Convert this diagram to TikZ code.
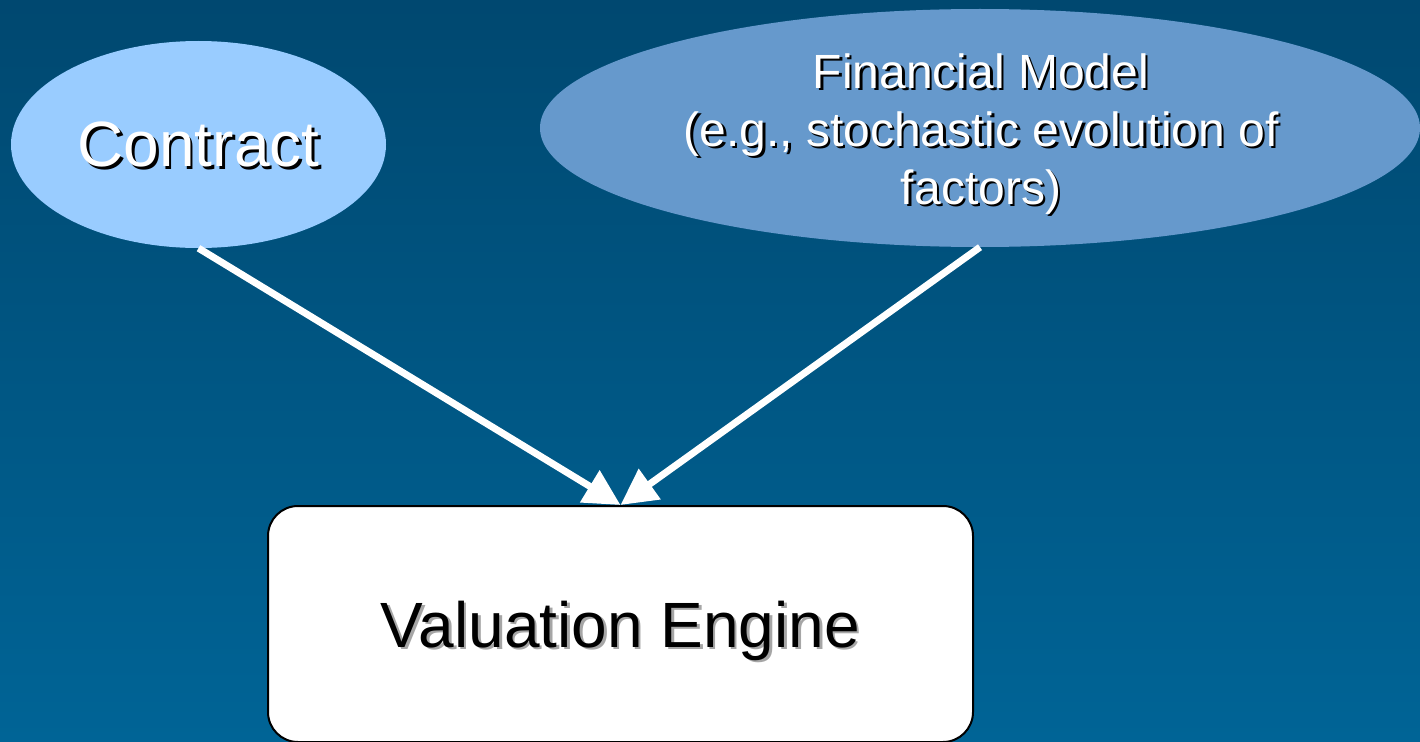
\documentclass[tikz,border=0pt]{standalone}
\usepackage{fontspec}
\setmainfont{Liberation Sans}
\usetikzlibrary{positioning}
\usetikzlibrary{shapes.geometric}
\usetikzlibrary{arrows.meta}
\definecolor{bgtop}{RGB}{0,72,112}
\definecolor{bgbot}{RGB}{0,100,150}
\definecolor{contractblue}{RGB}{153,204,255}
\definecolor{modelblue}{RGB}{102,153,204}
\newcommand{\shtext}[3]{\leavevmode\rlap{\kern2.5pt\raisebox{-2.5pt}{\textcolor{#1}{#3}}}\textcolor{#2}{#3}}
\tikzstyle{bubble} = [ellipse, inner sep=0pt]
\tikzstyle{engine} = [draw=black, line width=2pt, fill=white, rectangle, rounded corners=30pt, minimum width=705pt, minimum height=236pt, text depth=0pt]
\tikzstyle{feed} = [draw=white, line width=7pt, -{Triangle[length=36pt,width=36pt]}]

\begin{document}
\begin{tikzpicture}[x=1pt,y=-1pt]
    \shade [top color=bgtop, bottom color=bgbot] (0,0) rectangle (1420,741);
    \useasboundingbox (0,0) rectangle (1420,741);

    \node [bubble, fill=contractblue, minimum width=375pt, minimum height=207pt, font=\fontsize{64}{70}\selectfont, text depth=0pt] (contract) at (198.5,144.5) {\shtext{black}{white}{Contract}};
    \node [bubble, fill=modelblue, minimum width=880pt, minimum height=238pt] (model) at (980,128) {};
    \node [align=center, font=\fontsize{48}{58}\selectfont] (modeltext) at (981,135) {\shtext{black}{white}{Financial Model}\\ \shtext{black}{white}{(e.g., stochastic evolution of}\\ \shtext{black}{white}{factors)}};

    \node [engine, font=\fontsize{64}{70}\selectfont] (engine) at (620.5,624) {\shtext{gray!70}{black}{Valuation Engine}};

    \draw [feed] (contract.south) -- (engine.north);
    \draw [feed] (model.south) -- (engine.north);
\end{tikzpicture}
\end{document}
